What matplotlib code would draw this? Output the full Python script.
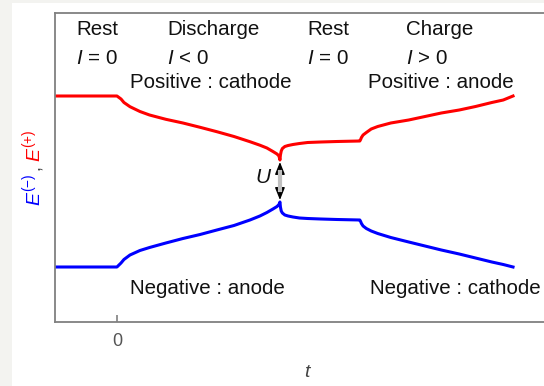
import matplotlib
matplotlib.use('Agg')
import matplotlib.pyplot as plt
from matplotlib.patches import Rectangle, FancyArrowPatch

plt.rcParams['font.family'] = ['Liberation Sans', 'DejaVu Sans']
plt.rcParams['mathtext.fontset'] = 'custom'
plt.rcParams['mathtext.rm'] = 'Liberation Sans'
plt.rcParams['mathtext.it'] = 'Liberation Sans:italic'

# time axis: discharge from t=0 to 1, rest to 1.5, charge to ~2.43
# positive electrode potential E(+)
t_pos = [-0.4, 0.0, 0.025, 0.043, 0.08, 0.141, 0.20, 0.30, 0.405, 0.51, 0.613, 0.718, 0.816, 0.877,
         0.92, 0.957, 0.982, 0.994, 1.0,
         1.003, 1.008, 1.015, 1.03, 1.05, 1.08, 1.12, 1.17, 1.25, 1.35, 1.49,
         1.495, 1.50, 1.51, 1.53, 1.56, 1.60, 1.68, 1.79, 1.89, 1.99, 2.10, 2.20, 2.30, 2.37, 2.43]
e_pos = [2.26, 2.26, 2.23, 2.195, 2.153, 2.105, 2.07, 2.027, 1.99, 1.947, 1.903, 1.855, 1.803, 1.768,
         1.74, 1.705, 1.68, 1.66, 1.62,
         1.67, 1.71, 1.735, 1.755, 1.765, 1.775, 1.785, 1.795, 1.80, 1.805, 1.81,
         1.825, 1.845, 1.87, 1.895, 1.93, 1.955, 1.99, 2.02, 2.055, 2.09, 2.12, 2.155, 2.195, 2.22, 2.26]

# negative electrode potential E(-)
t_neg = [-0.4, 0.0, 0.025, 0.043, 0.08, 0.141, 0.20, 0.30, 0.405, 0.51, 0.613, 0.718, 0.816, 0.877,
         0.92, 0.957, 0.982, 0.994, 1.0,
         1.003, 1.008, 1.015, 1.03, 1.05, 1.08, 1.12, 1.17, 1.25, 1.35, 1.49,
         1.495, 1.50, 1.51, 1.53, 1.56, 1.60, 1.68, 1.79, 1.89, 1.99, 2.10, 2.20, 2.30, 2.37, 2.43]
e_neg = [0.55, 0.55, 0.59, 0.625, 0.67, 0.715, 0.745, 0.79, 0.835, 0.875, 0.92, 0.965, 1.02, 1.06,
         1.095, 1.13, 1.155, 1.175, 1.20,
         1.15, 1.11, 1.09, 1.07, 1.06, 1.05, 1.04, 1.035, 1.03, 1.025, 1.02,
         1.005, 0.985, 0.96, 0.935, 0.91, 0.885, 0.845, 0.80, 0.76, 0.72, 0.68, 0.64, 0.60, 0.575, 0.55]

# cell voltage arrow
u_top, u_bottom = 1.60, 1.22

phase_names = ['Rest', 'Discharge', 'Rest', 'Charge']
phase_currents = ['$I$ = 0', '$I$ < 0', '$I$ = 0', '$I$ > 0']
phase_x = [-0.25, 0.31, 1.166, 1.775]
role_labels = ['Positive : cathode', 'Positive : anode', 'Negative : anode', 'Negative : cathode']
role_x = [0.08, 1.54, 0.08, 1.552]
role_y = [2.40, 2.40, 0.33, 0.33]

W, H = 544, 386
fig = plt.figure(figsize=(W / 100, H / 100), dpi=100)
fig.patch.set_facecolor('#f3f3f0')
fig.add_artist(Rectangle((12 / W, 0), 1, (H - 3) / H, transform=fig.transFigure,
                         facecolor='white', edgecolor='none', zorder=-10))

ax = fig.add_axes([55 / W, 64 / H, (W - 55) / W, 309 / H])
ax.set_xlim(-0.38, 2.62)
ax.set_ylim(0, 3.09)
for side in ['left', 'top', 'bottom']:
    ax.spines[side].set_color('#808080')
    ax.spines[side].set_linewidth(1.3)
ax.spines['right'].set_visible(False)
ax.set_yticks([])
ax.set_xticks([0])
ax.set_xticklabels(['0'])
ax.tick_params(axis='x', direction='in', length=5, width=1.2, color='#808080',
               labelcolor='#555555', labelsize=13, pad=8)

ax.plot(t_pos, e_pos, color='#ff0000', lw=2.2, solid_joinstyle='round')
ax.plot(t_neg, e_neg, color='#0000ff', lw=2.2, solid_joinstyle='round')

# U arrow: black heads, grey shaft
ax.add_patch(FancyArrowPatch((1.0, u_bottom), (1.0, u_top), arrowstyle='<|-|>,head_length=7.5,head_width=3',
                             color='black', lw=1.0, mutation_scale=1, shrinkA=0, shrinkB=0, zorder=3))
ax.plot([1.0, 1.0], [u_bottom + 0.1, u_top - 0.1], color='#c0c0c0', lw=3, zorder=4)
ax.text(0.9, 1.44, '$U$', fontsize=15, ha='center', va='center', color='#111111')

for name, cur, x in zip(phase_names, phase_currents, phase_x):
    ax.text(x, 2.92, name, fontsize=14.8, ha='left', va='center', color='#111111')
    ax.text(x, 2.63, cur, fontsize=14.8, ha='left', va='center', color='#111111')
for lab, x, y in zip(role_labels, role_x, role_y):
    ax.text(x, y, lab, fontsize=14.8, ha='left', va='center', color='#111111')

ax.set_xlabel('$t$', fontsize=14, color='#444444')
ax.xaxis.set_label_coords(0.517, -0.135)

# two-coloured y label
fig.text(40 / W, (H - 206) / H, '$E^{(-)}$', color='#0000ff', fontsize=14, rotation=90,
         rotation_mode='anchor', ha='left', va='baseline')
fig.text(40 / W, (H - 170) / H, ',', color='#444444', fontsize=13, rotation=90,
         rotation_mode='anchor', ha='left', va='baseline')
fig.text(40 / W, (H - 162) / H, '$E^{(+)}$', color='#ff0000', fontsize=14, rotation=90,
         rotation_mode='anchor', ha='left', va='baseline')

fig.savefig('out.png', dpi=100)
